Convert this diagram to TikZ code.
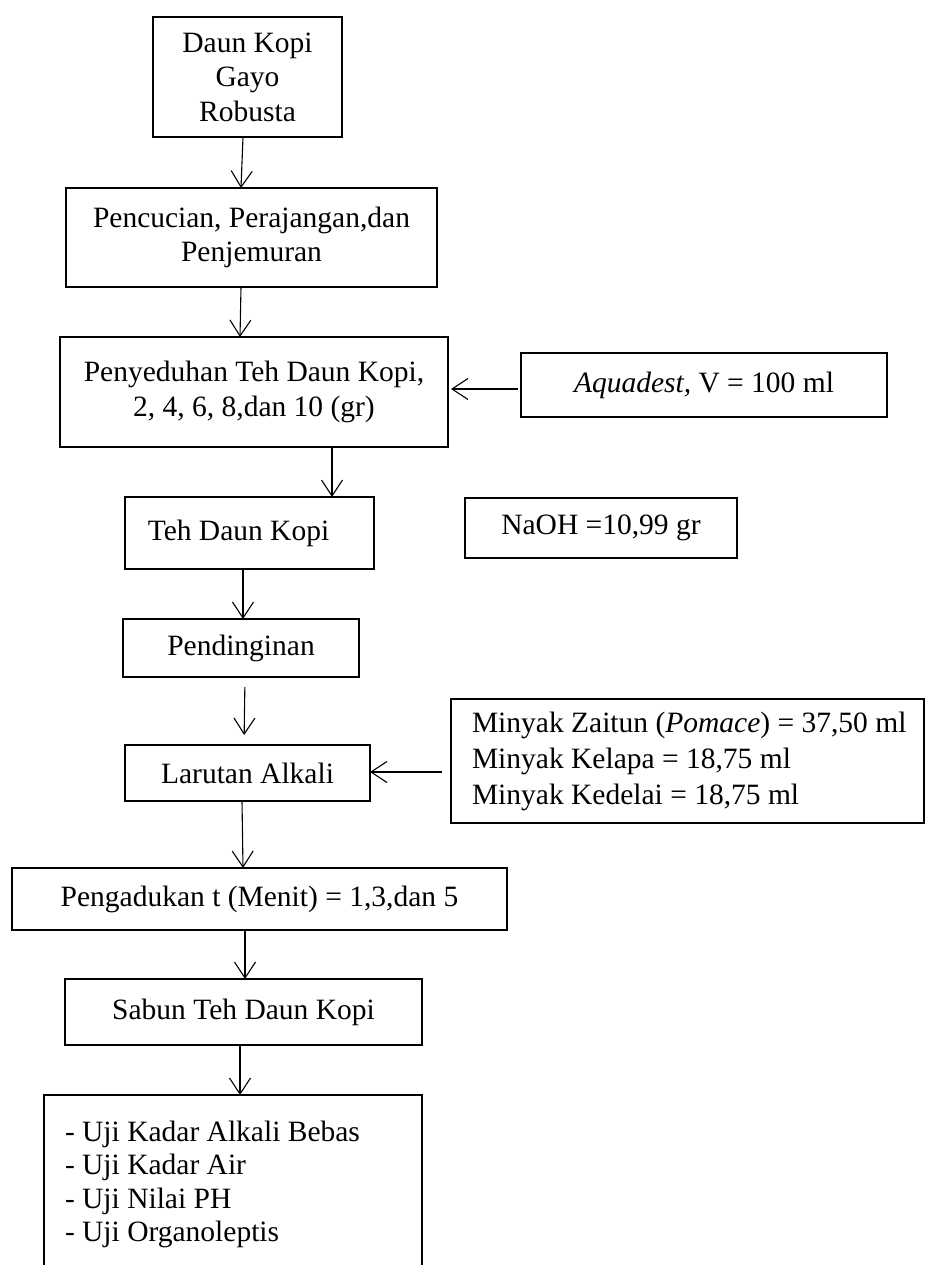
\documentclass[tikz,border=0pt]{standalone}
\usepackage{fontspec}
\setmainfont{Liberation Serif}
\usetikzlibrary{arrows.meta}
\begin{document}
\begin{tikzpicture}[x=1pt,y=-1pt,
  box/.style={draw, line width=2.2pt, inner sep=0pt, outer sep=0pt,
    font=\fontsize{29.5}{34.5}\selectfont, align=center},
  listbox/.style={box, align=flush left},
  arr/.style={line width=1.1pt, -{Straight Barb[length=16pt,width=21pt]}}]
\useasboundingbox (0,0) rectangle (926,1265);

\node[box, minimum width=189pt, minimum height=120pt] (b1) at (247.5,77) {Daun Kopi\\Gayo\\Robusta};
\node[box, minimum width=371pt, minimum height=99pt] (b2) at (251.5,237.5) {Pencucian, Perajangan,dan\\Penjemuran};
\node[box, minimum width=388pt, minimum height=110pt] (b3) at (254,392) {Penyeduhan Teh Daun Kopi,\\2, 4, 6, 8,dan 10 (gr)};
\node[box, minimum width=366pt, minimum height=64pt] (aq) at (704,385) {\textit{Aquadest,} V = 100 ml};
\node[box, minimum width=249pt, minimum height=72pt] (teh) at (249.5,533) {Teh Daun Kopi\hspace*{22pt}};
\node[box, minimum width=272pt, minimum height=60pt] (naoh) at (601,528) {NaOH =10,99 gr};
\node[box, minimum width=236pt, minimum height=58pt] (pend) at (241,648) {Pendinginan};
\node[listbox, minimum width=473pt, minimum height=124pt, text width=431pt,
  font=\fontsize{29.5}{36}\selectfont] (my) at (687.5,761)
  {\mbox{Minyak Zaitun (\textit{Pomace}) = 37,50 ml}\\\mbox{Minyak Kelapa = 18,75 ml}\\\mbox{Minyak Kedelai = 18,75 ml}};
\node[box, minimum width=245pt, minimum height=56pt] (lar) at (247.5,773) {Larutan Alkali};
\node[box, minimum width=495pt, minimum height=62pt] (peng) at (259.5,899) {Pengadukan t (Menit) = 1,3,dan 5};
\node[box, minimum width=357pt, minimum height=66pt] (sab) at (243.5,1012) {Sabun Teh Daun Kopi};
\node[listbox, anchor=north, minimum width=378pt, text width=336pt, inner ysep=26pt,
  font=\fontsize{29.5}{33.5}\selectfont] (uji) at (233,1095)
  {\mbox{- Uji Kadar Alkali Bebas}\\\mbox{- Uji Kadar Air}\\\mbox{- Uji Nilai PH}\\\mbox{- Uji Organoleptis}\\\mbox{}};

\draw[arr] ([xshift=-4.5pt]b1.south) -- ([xshift=-10.5pt]b2.north);
\draw[arr] ([xshift=-10.5pt]b2.south) -- ([xshift=-14pt]b3.north);
\draw[arr] ([xshift=78pt]b3.south) -- ([xshift=82.5pt]teh.north);
\draw[arr] ([xshift=-6.5pt]teh.south) -- ([xshift=2pt]pend.north);
\draw[arr, shorten <=10pt, shorten >=10pt] ([xshift=4pt]pend.south) -- ([xshift=-3.5pt]lar.north);
\draw[arr] ([xshift=-5.5pt]lar.south) -- ([xshift=-16.5pt]peng.north);
\draw[arr] ([xshift=-14.5pt]peng.south) -- ([xshift=1.5pt]sab.north);
\draw[arr] ([xshift=-3.5pt]sab.south) -- ([xshift=7pt]uji.north);
\draw[arr, shorten <=3pt, shorten >=3pt] ([yshift=-4pt]aq.west) -- ([yshift=3pt]b3.east);
\draw[arr, shorten <=9pt] ([yshift=-11pt]my.west) -- ([yshift=1pt]lar.east);
\end{tikzpicture}
\end{document}
